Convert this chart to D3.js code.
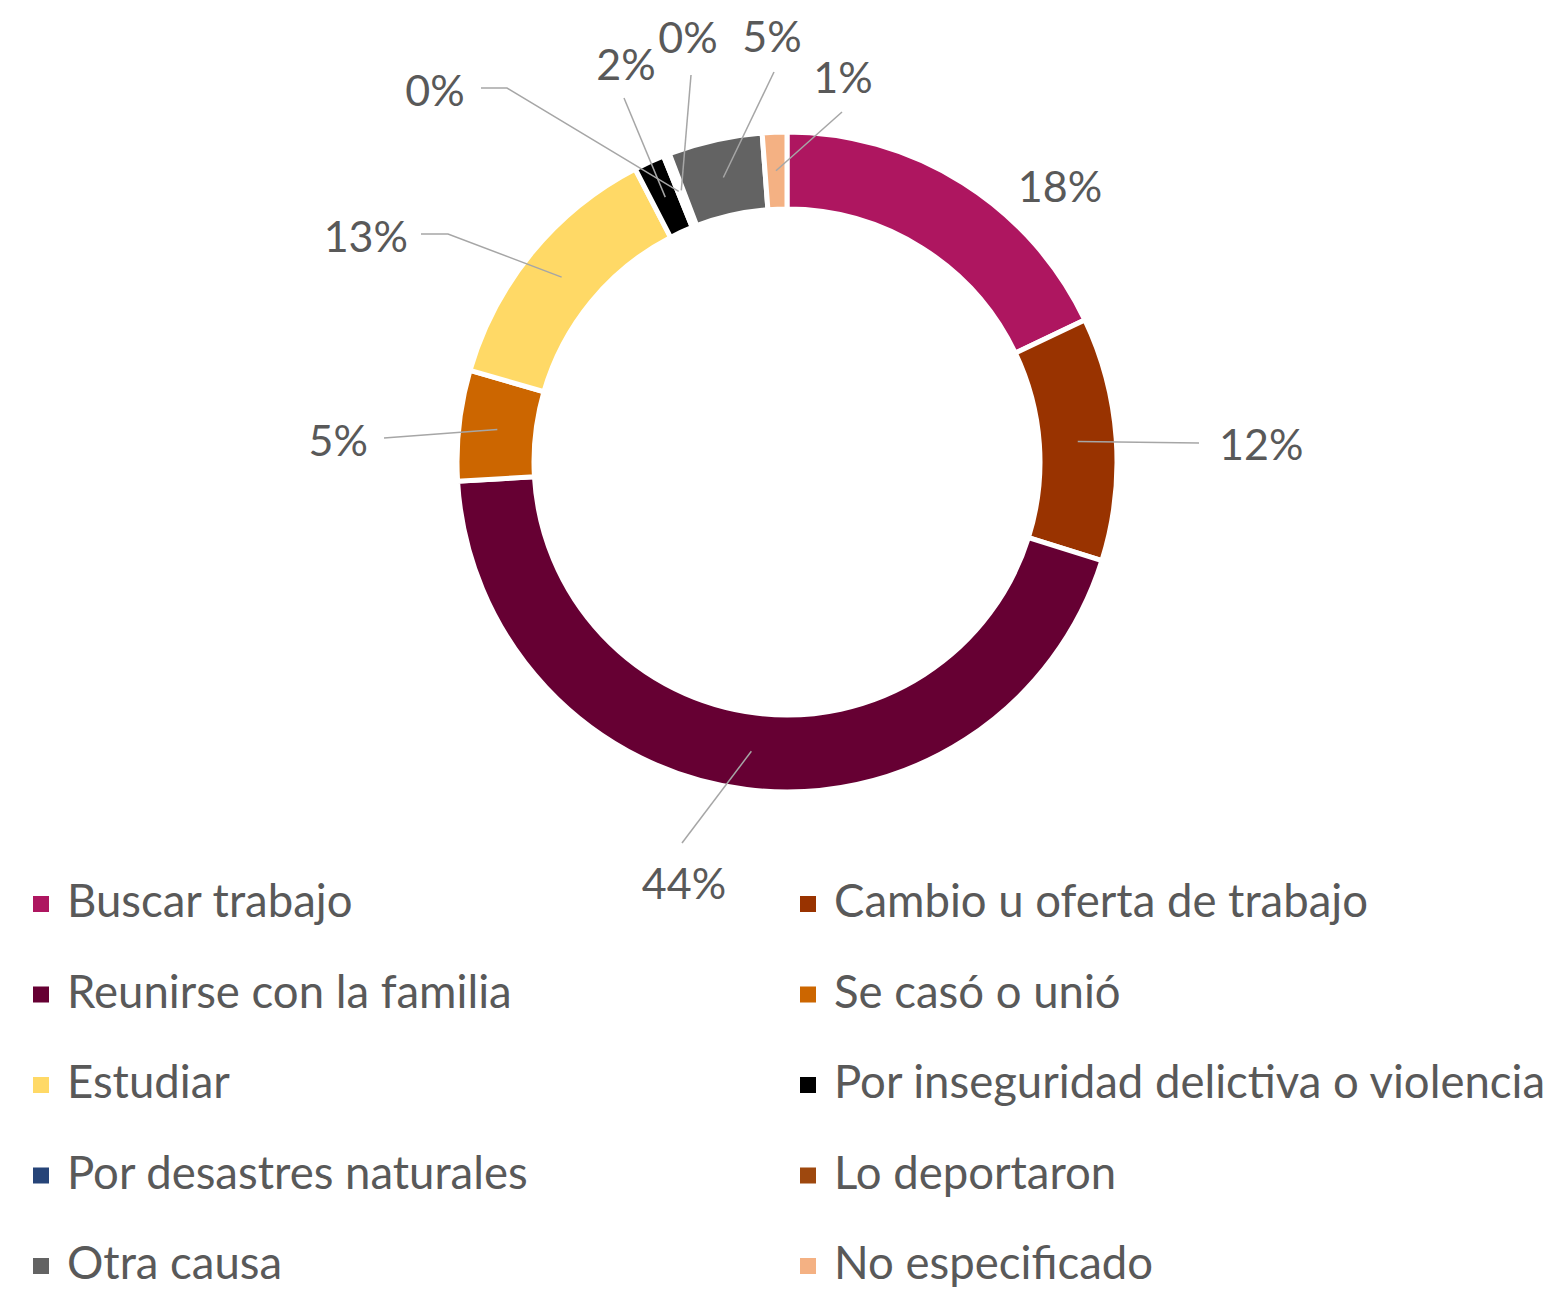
<!DOCTYPE html>
<html>
<head>
<meta charset="utf-8">
<script src="https://cdn.jsdelivr.net/npm/d3@7"></script>
<style>
  html, body { margin: 0; padding: 0; background: #fff; }
  svg text { font-family: Lato, "Noto Sans", sans-serif; fill: #595959; }
</style>
</head>
<body>
<svg id="chart" width="1553" height="1291"></svg>
<script>
// causas de la migración (porcentaje)
const categories = [
  'Buscar trabajo',
  'Cambio u oferta de trabajo',
  'Reunirse con la familia',
  'Se casó o unió',
  'Estudiar',
  'Por inseguridad delictiva o violencia',
  'Por desastres naturales',
  'Lo deportaron',
  'Otra causa',
  'No especificado'
];
const values = [17.9, 11.9, 44.2, 5.4, 12.9, 1.5, 0.1, 0.2, 4.6, 1.2];
const colors = ['#AE1660', '#993300', '#660033', '#CC6600', '#FFD966',
  '#000000', '#264478', '#9E480E', '#636363', '#F4B183'];

// label placement, relative to the donut centre (like excel's manual labels)
// text: [dx, dy, anchor]  leader: extra points after the centroid
const labelSpots = [
  { text: [273, -260, 'middle'], leader: [] },
  { text: [432, -2, 'start'], leader: [[412, -19]] },
  { text: [-103, 437, 'middle'], leader: [[-105, 381]] },
  { text: [-419, -6, 'end'], leader: [[-403, -24]] },
  { text: [-379, -210, 'end'], leader: [[-339, -228], [-366, -228]] },
  { text: [-161, -382, 'middle'], leader: [[-163, -364]] },
  { text: [-352, -356, 'middle'], leader: [[-280, -374], [-306, -374]] },
  { text: [-99, -409, 'middle'], leader: [[-96, -387]] },
  { text: [-15, -410, 'middle'], leader: [[-13, -390]] },
  { text: [56, -369, 'middle'], leader: [[55, -350]] }
];

const svg = d3.select('#chart');
const cx = 787, cy = 462;
const rOuter = 330, rInner = 253;

const rows = categories.map((c, i) => ({ name: c, value: values[i], color: colors[i], spot: labelSpots[i] }));

const pie = d3.pie().sort(null).value(d => d.value);
const arc = d3.arc().innerRadius(rInner).outerRadius(rOuter);
const mid = d3.arc().innerRadius((rInner + rOuter) / 2).outerRadius((rInner + rOuter) / 2);

const g = svg.append('g').attr('transform', `translate(${cx},${cy})`);
const arcs = pie(rows);

g.selectAll('path.slice')
  .data(arcs)
  .join('path')
  .attr('class', 'slice')
  .attr('d', arc)
  .attr('fill', d => d.data.color)
  .attr('stroke', '#fff')
  .attr('stroke-width', 5)
  .attr('stroke-linejoin', 'miter');

// leader lines
const line = d3.line();
g.selectAll('path.leader')
  .data(arcs.filter(d => d.data.spot.leader.length))
  .join('path')
  .attr('class', 'leader')
  .attr('d', d => line([mid.centroid(d)].concat(d.data.spot.leader)))
  .attr('fill', 'none')
  .attr('stroke', '#A6A6A6')
  .attr('stroke-width', 1.5);

g.selectAll('text.pct')
  .data(arcs)
  .join('text')
  .attr('class', 'pct')
  .attr('x', d => d.data.spot.text[0])
  .attr('y', d => d.data.spot.text[1])
  .attr('text-anchor', d => d.data.spot.text[2])
  .style('font-size', '43px')
  .text(d => Math.round(d.data.value) + '%');

// legend, two columns
const legend = svg.append('g');
const colX = [33, 800];
const rowY = d3.scalePoint().domain(d3.range(5)).range([904, 1266]);

const items = legend.selectAll('g.item')
  .data(rows)
  .join('g')
  .attr('class', 'item')
  .attr('transform', (d, i) => `translate(${colX[i % 2]},${rowY(Math.floor(i / 2))})`);

items.append('rect')
  .attr('x', 0).attr('y', -8)
  .attr('width', 16).attr('height', 16)
  .attr('fill', d => d.color);

items.append('text')
  .attr('x', 34)
  .attr('y', 13)
  .style('font-size', '45.5px')
  .text(d => d.name);
</script>
</body>
</html>
